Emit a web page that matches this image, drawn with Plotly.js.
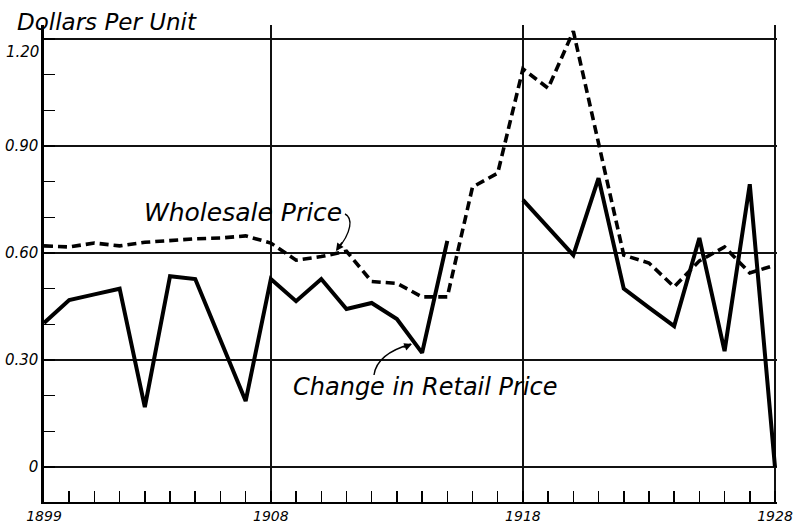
<!DOCTYPE html>
<html>
<head>
<meta charset="utf-8">
<script src="https://cdn.plot.ly/plotly-3.0.1.min.js"></script>
<style>
  html, body { margin: 0; padding: 0; background: #fff; }
  #chart { width: 797px; height: 524px; }
</style>
</head>
<body>
<div id="chart"></div>
<script>
// ---- data ----
const years = [1899, 1900, 1901, 1902, 1903, 1904, 1905, 1906, 1907, 1908,
               1909, 1910, 1911, 1912, 1913, 1914, 1915, 1916, 1917, 1918,
               1919, 1920, 1921, 1922, 1923, 1924, 1925, 1926, 1927, 1928];

const wholesalePrice = [0.620, 0.617, 0.628, 0.620, 0.630, 0.636, 0.640, 0.642, 0.648, 0.628,
                        0.580, 0.590, 0.605, 0.520, 0.515, 0.477, 0.477, 0.785, 0.824, 1.116,
                        1.062, 1.222, 0.905, 0.594, 0.572, 0.505, 0.578, 0.617, 0.544, 0.566];

const retailChange = [0.404, 0.468, 0.484, 0.500, 0.168, 0.535, 0.527, 0.356, 0.185, 0.527,
                      0.465, 0.527, 0.443, 0.460, 0.415, 0.320, 0.634, null, null, 0.749,
                      0.670, 0.594, 0.810, 0.500, 0.447, 0.395, 0.642, 0.325, 0.793, 0.000];

const xTickVals = [1899, 1908, 1918, 1928];
const xTickText = ['1899', '1908', '1918', '1928'];
const yTickVals = [0, 0.30, 0.60, 0.90, 1.20];
const yTickText = ['0', '0.30', '0.60', '0.90', '1.20'];

const titleText = 'Dollars Per Unit';
const wholesaleLabel = 'Wholesale Price';
const retailLabel = 'Change in Retail Price';

// ---- helpers for placing hand-drawn callouts (pixel -> data) ----
const L = 44, T = 25;
const pxPerYear = 733 / (1928.08 - 1899);
const yMax = 1.2393, yMin = -0.0981;
const pxPerUnit = 477 / (yMax - yMin);
function X(px) { return 1899 + (px - L) / pxPerYear; }
function Y(py) { return yMax - (py - T) / pxPerUnit; }
function P(px, py) { return X(px) + ',' + Y(py); }

const FONT = 'DejaVu Sans';

const traces = [
  {
    x: years, y: wholesalePrice, type: 'scatter', mode: 'lines',
    line: { color: '#000', width: 3.6, dash: '9px,5px' },
    hoverinfo: 'skip', showlegend: false
  },
  {
    x: years, y: retailChange, type: 'scatter', mode: 'lines',
    connectgaps: false,
    line: { color: '#000', width: 4 },
    hoverinfo: 'skip', showlegend: false
  }
];

const layout = {
  width: 797, height: 524,
  margin: { l: L, r: 20, t: T, b: 22 },
  paper_bgcolor: '#fff', plot_bgcolor: '#fff',
  showlegend: false,
  title: {
    text: titleText,
    x: 17 / 797, xanchor: 'left', xref: 'container',
    y: 1 - 22 / 524, yanchor: 'middle', yref: 'container',
    font: { family: FONT, size: 23, style: 'italic', color: '#000' }
  },
  xaxis: {
    range: [1899, 1928.08],
    tickmode: 'array', tickvals: xTickVals, ticktext: xTickText,
    ticks: 'inside', ticklen: 11, tickwidth: 1.5, tickcolor: '#000',
    minor: { tickmode: 'linear', tick0: 1899, dtick: 1, ticks: 'inside', ticklen: 11,
             tickwidth: 1.5, tickcolor: '#000', showgrid: false },
    showgrid: true, gridcolor: '#111', gridwidth: 1.4,
    showline: true, linecolor: '#000', linewidth: 2.2,
    zeroline: false,
    ticklabelstandoff: 0,
    tickfont: { family: FONT, size: 14, style: 'italic', color: '#000' },
    fixedrange: true
  },
  yaxis: {
    range: [yMin, yMax],
    tickmode: 'array', tickvals: yTickVals,
    ticktext: yTickText.slice(0, 4).concat(['']),
    ticks: '',
    minor: { tickmode: 'linear', tick0: 0, dtick: 0.1, ticks: 'inside', ticklen: 11,
             tickwidth: 1.5, tickcolor: '#000', showgrid: false },
    showgrid: true, gridcolor: '#111', gridwidth: 1.4,
    showline: true, linecolor: '#000', linewidth: 2.6,
    zeroline: false,
    tickfont: { family: FONT, size: 15, style: 'italic', color: '#000' },
    fixedrange: true
  },
  shapes: [
    { type: 'path', xref: 'x', yref: 'y',
      path: 'M' + P(345, 214) + ' C' + P(353, 218) + ' ' + P(352, 232) + ' ' + P(337, 250),
      line: { color: '#000', width: 1.4 } },
    { type: 'path', xref: 'x', yref: 'y',
      path: 'M' + P(374, 375) + ' C' + P(376, 360) + ' ' + P(390, 350) + ' ' + P(411, 344),
      line: { color: '#000', width: 1.4 } }
  ],
  annotations: [
    { text: yTickText[4], xref: 'paper', x: 0, xanchor: 'right', xshift: -3,
      yref: 'y', y: Y(52), yanchor: 'middle', showarrow: false,
      font: { family: FONT, size: 15, style: 'italic', color: '#000' } },
    { text: wholesaleLabel, xref: 'x', yref: 'y', x: X(243), y: Y(212),
      xanchor: 'center', yanchor: 'middle', showarrow: false,
      font: { family: FONT, size: 25, style: 'italic', color: '#000' } },
    { text: retailLabel, xref: 'x', yref: 'y', x: X(425), y: Y(387),
      xanchor: 'center', yanchor: 'middle', showarrow: false,
      font: { family: FONT, size: 24, style: 'italic', color: '#000' } },
    { text: '', xref: 'x', yref: 'y', x: X(336), y: Y(251),
      showarrow: true, ax: 7, ay: -10, arrowhead: 2, arrowsize: 1.1, arrowwidth: 1.4, arrowcolor: '#000' },
    { text: '', xref: 'x', yref: 'y', x: X(412), y: Y(344),
      showarrow: true, ax: -10, ay: 4, arrowhead: 2, arrowsize: 1.1, arrowwidth: 1.4, arrowcolor: '#000' }
  ]
};

Plotly.newPlot('chart', traces, layout, { staticPlot: true, displayModeBar: false });
</script>
</body>
</html>
